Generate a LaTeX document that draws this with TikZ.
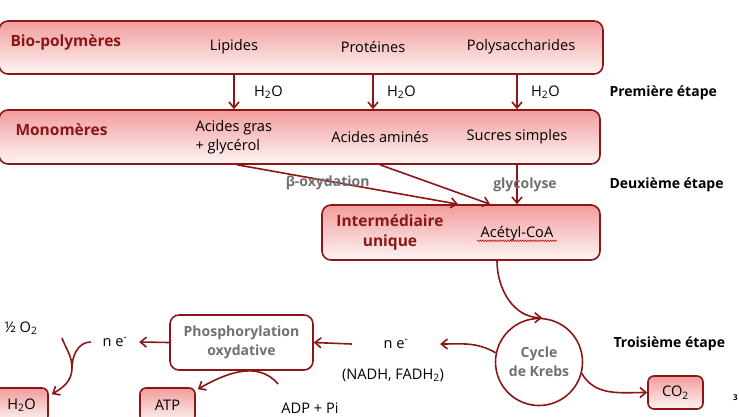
\documentclass[tikz,border=0pt]{standalone}
\usepackage{fontspec}
\setmainfont{Open Sans}
\usetikzlibrary{arrows.meta,decorations.pathmorphing}
\definecolor{dred}{RGB}{140,22,22}
\definecolor{boxpink}{RGB}{242,156,156}
\definecolor{txtgray}{RGB}{112,112,112}
\begin{document}
\begin{tikzpicture}[x=1pt,y=1pt,font=\fontsize{14.6}{19}\selectfont,
  >={Straight Barb[length=6pt,width=10pt]},
  box/.style={draw=dred,line width=1.6pt,rounded corners=9pt,top color=boxpink,bottom color=boxpink!10},
  wbox/.style={draw=dred,line width=1.6pt,rounded corners=9pt,fill=white},
  lbl/.style={font=\fontsize{15.5}{20}\selectfont\bfseries,text=dred},
  grey/.style={font=\fontsize{14}{19}\selectfont\bfseries,text=txtgray},
  stage/.style={font=\fontsize{14}{18}\selectfont\bfseries,anchor=west},
  arr/.style={->,draw=dred,line width=1.6pt}]
\useasboundingbox (0,0) rectangle (739,-416);
\clip (0,0) rectangle (739,-416);
% etages
\node[box,minimum width=604pt,minimum height=53pt] (bio) at (301,-47.5) {};
\node[lbl,anchor=west] (biot) at (7,-42) {Bio-polymères};
\node (lip) at (234,-47) {Lipides};
\node (prot) at (373,-47) {Protéines};
\node (poly) at (521,-47) {Polysaccharides};
\node[box,minimum width=601pt,minimum height=54pt] (mono) at (299.5,-137) {};
\node[lbl,anchor=west] (monot) at (12,-130) {Monomères};
\node[align=left,anchor=west] (agras) at (192,-137.5) {Acides gras\\+ glycérol};
\node (amin) at (380,-137) {Acides aminés};
\node (sucr) at (517,-137) {Sucres simples};
\node[box,minimum width=278pt,minimum height=55pt] (inter) at (461,-232.5) {};
\node[lbl,align=center] (intert) at (390,-232) {Intermédiaire\\unique};
\node (acet) at (517,-234) {Acétyl-CoA};
\draw[red!85!black,line width=0.6pt,decorate,decoration={snake,amplitude=0.7pt,segment length=2.5pt}] ([yshift=-3pt]acet.base west) -- ([yshift=-3pt]acet.base east);
\node[stage] (st1) at (606,-93) {Première étape};
\node[stage] (st2) at (606,-185) {Deuxième étape};
\node[stage] (st3) at (610,-344) {Troisième étape};
% hydrolyse
\draw[arr] (lip |- bio.south) -- node[right,xshift=16pt]{H\textsubscript{2}O} (lip |- mono.north);
\draw[arr] (prot |- bio.south) -- node[right,xshift=10pt]{H\textsubscript{2}O} (prot |- mono.north);
\draw[arr] (sucr |- bio.south) -- node[right,xshift=10pt]{H\textsubscript{2}O} (sucr |- mono.north);
\draw[arr] ([xshift=3pt]lip |- mono.south) -- node[grey,pos=0.41,yshift=-2pt]{β-oxydation} ([xshift=-3pt]inter.north);
\draw[arr] (amin |- mono.south) -- ([xshift=29pt]inter.north);
\draw[arr] (sucr |- mono.south) -- node[grey,xshift=8pt]{glycolyse} (sucr |- inter.north);
% Krebs
\node[draw=dred,line width=1.6pt,circle,fill=white,minimum size=87pt,inner sep=0pt,grey,align=center] (krebs) at (539,-362) {Cycle\\de Krebs};
\draw[arr] ([xshift=-20pt]acet.south |- inter.south) to[out=-90,in=180] ([xshift=3pt]krebs.north);
\node[box,minimum width=55pt,minimum height=33pt,rounded corners=6pt] (co2) at (675.5,-392.5) {CO\textsubscript{2}};
\draw[arr] (krebs.-15) to[out=-60,in=180] (co2.west);
\node[minimum width=88pt] (ne2) at (396,-344) {n e\textsuperscript{-}};
\node (nadh) at (393,-375) {(NADH, FADH\textsubscript{2})};
\draw[arr] (krebs.168) to[out=150,in=0] (ne2.east);
% chaine respiratoire
\node[wbox,minimum width=143pt,minimum height=55pt,grey,align=center] (phos) at (241.5,-342.5) {Phosphorylation\\oxydative};
\draw[arr] (ne2.west) -- (phos.east);
\node[minimum width=48pt] (ne1) at (115,-342) {n e\textsuperscript{-}};
\draw[arr] (phos.west) -- (ne1.east);
\node (o2) at (21,-328) {½ O\textsubscript{2}};
\node[box,minimum width=53pt,minimum height=34pt,rounded corners=6pt] (h2o) at (21.5,-405) {H\textsubscript{2}O};
\coordinate (o2s) at (62,-338);
\coordinate (join) at (72,-368);
\draw[line width=1.6pt,draw=dred] (o2s) to[out=-70,in=90] (join);
\draw[arr] (ne1.west) to[out=180,in=90] (join) to[out=-90,in=30] ([shift={(3pt,-7pt)}]h2o.north east);
\node[box,minimum width=55pt,minimum height=34pt,rounded corners=6pt] (atp) at (167.5,-405) {ATP};
\node (adp) at (310,-408) {ADP + Pi};
\coordinate (adps) at (278,-384);
\draw[arr] (adps) to[out=130,in=30] ([shift={(2pt,-2pt)}]atp.north east);
\node[font=\fontsize{8}{9}\selectfont\bfseries,anchor=west,inner sep=0pt] (pg) at (733,-398) {3};
\end{tikzpicture}
\end{document}
